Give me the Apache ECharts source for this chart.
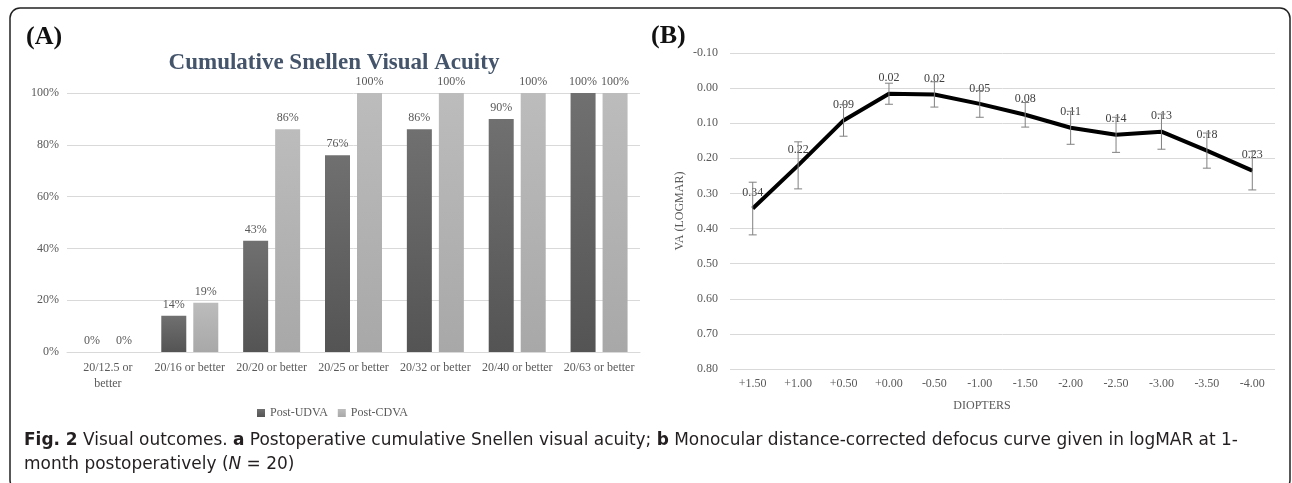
<!DOCTYPE html>
<html>
<head>
<meta charset="utf-8">
<script src="https://cdn.jsdelivr.net/npm/echarts@6/dist/echarts.min.js"></script>
<style>
  html, body { margin: 0; padding: 0; background: #fff; }
  #chart { width: 1292px; height: 483px; }
</style>
</head>
<body>
<div id="chart"></div>
<script>
// (A) cumulative Snellen visual acuity
const snellenCats = ["20/12.5 or better", "20/16 or better", "20/20 or better", "20/25 or better", "20/32 or better", "20/40 or better", "20/63 or better"];
const udva = [0, 14, 43, 76, 86, 90, 100];
const cdva = [0, 19, 86, 100, 100, 100, 100];
const seriesNames = ["Post-UDVA", "Post-CDVA"];

// (B) defocus curve
const diopters = ["+1.50", "+1.00", "+0.50", "+0.00", "-0.50", "-1.00", "-1.50", "-2.00", "-2.50", "-3.00", "-3.50", "-4.00"];
const vaMean = [0.343, 0.22, 0.092, 0.016, 0.018, 0.045, 0.076, 0.113, 0.133, 0.124, 0.178, 0.235];
const vaLabels = ["0.34", "0.22", "0.09", "0.02", "0.02", "0.05", "0.08", "0.11", "0.14", "0.13", "0.18", "0.23"];
const vaErr = [0.075, 0.067, 0.045, 0.03, 0.036, 0.038, 0.035, 0.047, 0.05, 0.05, 0.05, 0.055];

const serif = "Liberation Serif, Times New Roman, serif";
const capFont = "Liberation Sans Narrow, DejaVu Sans Condensed, sans-serif";
const txt = "#595959";
const gridCol = "#d9d9d9";

const chart = echarts.init(document.getElementById("chart"));

function grad(top, bottom) {
  return new echarts.graphic.LinearGradient(0, 0, 0, 1, [
    { offset: 0, color: top },
    { offset: 1, color: bottom },
  ]);
}

chart.setOption({
  animation: false,
  textStyle: { fontFamily: serif },
  graphic: [
    {
      type: "rect",
      shape: { x: 10, y: 8, width: 1280, height: 482, r: 10 },
      style: { fill: "none", stroke: "#222", lineWidth: 1.5 },
    },
    {
      type: "text", x: 26, y: 37,
      style: { text: "(A)", font: "bold 26px " + serif, fill: "#111", verticalAlign: "middle" },
    },
    {
      type: "text", x: 651, y: 36,
      style: { text: "(B)", font: "bold 26px " + serif, fill: "#111", verticalAlign: "middle" },
    },
    {
      type: "text", x: 334, y: 63,
      style: { text: "Cumulative Snellen Visual Acuity", font: "bold 23px " + serif, fill: "#44546a", align: "center", verticalAlign: "middle" },
    },
    {
      type: "text", x: 982, y: 406,
      style: { text: "DIOPTERS", font: "12px " + serif, fill: txt, align: "center", verticalAlign: "middle" },
    },
    {
      type: "text", x: 680, y: 211, rotation: Math.PI / 2,
      style: { text: "VA (LOGMAR)", font: "12px " + serif, fill: txt, align: "center", verticalAlign: "middle" },
    },
    {
      type: "text", x: 24, y: 440, scaleX: 1.047,
      style: {
        text: "{b|Fig. 2} Visual outcomes. {b|a} Postoperative cumulative Snellen visual acuity; {b|b} Monocular distance-corrected defocus curve given in logMAR at 1-",
        font: "18px " + capFont,
        fill: "#231f20",
        verticalAlign: "middle",
        rich: { b: { fontWeight: "bold", fontSize: 18, fontFamily: capFont } },
      },
    },
    {
      type: "text", x: 24, y: 464, scaleX: 1.047,
      style: {
        text: "month postoperatively ({i|N} = 20)",
        font: "18px " + capFont,
        fill: "#231f20",
        verticalAlign: "middle",
        rich: { i: { fontStyle: "italic", fontSize: 18, fontFamily: capFont } },
      },
    },
  ],
  legend: {
    data: seriesNames,
    left: 252, top: 402,
    icon: "rect", itemWidth: 8, itemHeight: 8, itemGap: 10,
    textStyle: { color: txt, fontSize: 12, fontFamily: serif },
  },
  grid: [
    { left: 67, right: 652, top: 93, bottom: 131 },
    { left: 730, right: 17, top: 53, bottom: 114 },
  ],
  xAxis: [
    {
      type: "category", gridIndex: 0, data: snellenCats,
      axisLine: { lineStyle: { color: gridCol } },
      axisTick: { show: false },
      axisLabel: {
        color: txt, fontSize: 12, interval: 0, margin: 8, lineHeight: 16,
        formatter: (v) => v.replace("20/12.5 or ", "20/12.5 or\n"),
      },
    },
    {
      type: "category", gridIndex: 1, data: diopters,
      axisLine: { show: false },
      axisTick: { show: false },
      axisLabel: { color: txt, fontSize: 12, interval: 0, margin: 9 },
    },
  ],
  yAxis: [
    {
      type: "value", gridIndex: 0, min: 0, max: 100, interval: 20,
      axisLabel: { color: txt, fontSize: 12, formatter: "{value}%", margin: 8 },
      splitLine: { lineStyle: { color: gridCol } },
      axisLine: { show: false }, axisTick: { show: false },
    },
    {
      type: "value", gridIndex: 1, inverse: true, min: -0.1, max: 0.8, interval: 0.1,
      axisLabel: { color: txt, fontSize: 12, margin: 12, formatter: (v) => v.toFixed(2) },
      splitLine: { lineStyle: { color: gridCol } },
      axisLine: { show: false }, axisTick: { show: false },
    },
  ],
  series: [
    {
      name: seriesNames[0], type: "bar", xAxisIndex: 0, yAxisIndex: 0,
      data: udva, barWidth: 25, barGap: "28%",
      itemStyle: { color: grad("#707070", "#545454") },
      label: { show: true, position: "top", color: txt, fontSize: 12, formatter: "{c}%", distance: 5 },
    },
    {
      name: seriesNames[1], type: "bar", xAxisIndex: 0, yAxisIndex: 0,
      data: cdva, barWidth: 25,
      itemStyle: { color: grad("#bcbcbc", "#a8a8a8") },
      label: { show: true, position: "top", color: txt, fontSize: 12, formatter: "{c}%", distance: 5 },
    },
    {
      type: "line", xAxisIndex: 1, yAxisIndex: 1,
      data: vaMean, symbol: "circle", symbolSize: 1,
      itemStyle: { color: "#000" },
      lineStyle: { color: "#000", width: 4 },
      label: {
        show: true, position: "top", distance: 9, color: "#404040", fontSize: 12,
        formatter: (p) => vaLabels[p.dataIndex],
      },
      z: 3,
    },
    {
      type: "custom", xAxisIndex: 1, yAxisIndex: 1,
      data: vaMean.map((m, i) => [i, m - vaErr[i], m + vaErr[i]]),
      renderItem: (params, api) => {
        const lo = api.coord([api.value(0), api.value(1)]);
        const hi = api.coord([api.value(0), api.value(2)]);
        const w = 4;
        const st = { stroke: "#808080", lineWidth: 1 };
        return {
          type: "group",
          children: [
            { type: "line", shape: { x1: lo[0], y1: lo[1], x2: hi[0], y2: hi[1] }, style: st },
            { type: "line", shape: { x1: lo[0] - w, y1: lo[1], x2: lo[0] + w, y2: lo[1] }, style: st },
            { type: "line", shape: { x1: hi[0] - w, y1: hi[1], x2: hi[0] + w, y2: hi[1] }, style: st },
          ],
        };
      },
      z: 4,
    },
  ],
});

window.addEventListener("resize", () => chart.resize());
</script>
</body>
</html>
